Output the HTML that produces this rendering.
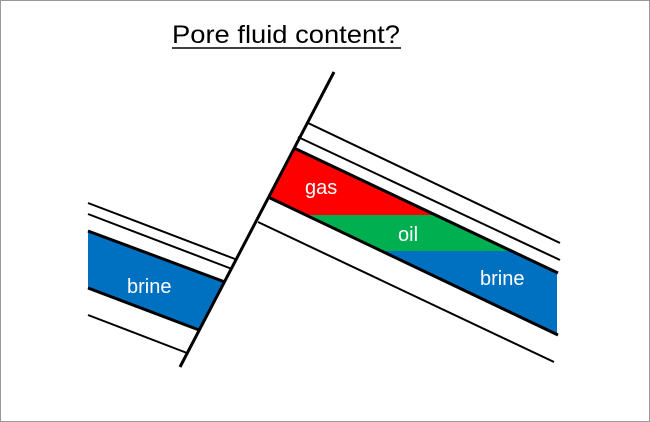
<!DOCTYPE html>
<html><head><style>body{margin:0;background:#fff}svg{display:block}</style></head><body>
<svg width="650" height="422" viewBox="0 0 650 422" xmlns="http://www.w3.org/2000/svg">
<rect x="0.5" y="0.5" width="649" height="421" fill="#fff" stroke="#999" stroke-width="1"/>
<text x="172" y="43" font-family="Liberation Sans, sans-serif" font-size="25" textLength="228" lengthAdjust="spacingAndGlyphs" fill="#000">Pore fluid content?</text>
<line x1="172" y1="48" x2="401" y2="48" stroke="#000" stroke-width="1.5"/>
<defs>
<clipPath id="band"><polygon points="294,148 557,273 557,335 268,197"/></clipPath>
</defs>
<g clip-path="url(#band)">
<rect x="250" y="100" width="320" height="115" fill="#ff0000"/>
<rect x="250" y="215" width="320" height="36" fill="#00b050"/>
<rect x="250" y="251" width="320" height="100" fill="#0070c0"/>
</g>
<polygon points="88,231 225,282 199,330 88,288" fill="#0070c0"/>
<g stroke="#000" fill="none">
<line x1="308" y1="123" x2="560" y2="243" stroke-width="2"/>
<line x1="298" y1="137" x2="560" y2="260" stroke-width="2"/>
<line x1="294" y1="148" x2="558" y2="273" stroke-width="3"/>
<line x1="268" y1="197" x2="558" y2="335" stroke-width="3"/>
<line x1="258" y1="222" x2="554" y2="362" stroke-width="2"/>
<line x1="88" y1="203" x2="235" y2="259" stroke-width="2"/>
<line x1="88" y1="214" x2="232" y2="269" stroke-width="2"/>
<line x1="88" y1="231" x2="225" y2="282" stroke-width="3"/>
<line x1="88" y1="288" x2="199" y2="330" stroke-width="3"/>
<line x1="88" y1="315" x2="187" y2="353" stroke-width="2"/>
<line x1="334" y1="72" x2="180" y2="367" stroke-width="3"/>
</g>
<g font-family="Liberation Sans, sans-serif" font-size="20" fill="#fff">
<text x="305" y="194">gas</text>
<text x="398" y="241">oil</text>
<text x="480" y="285">brine</text>
<text x="127" y="293">brine</text>
</g>
</svg>
</body></html>
